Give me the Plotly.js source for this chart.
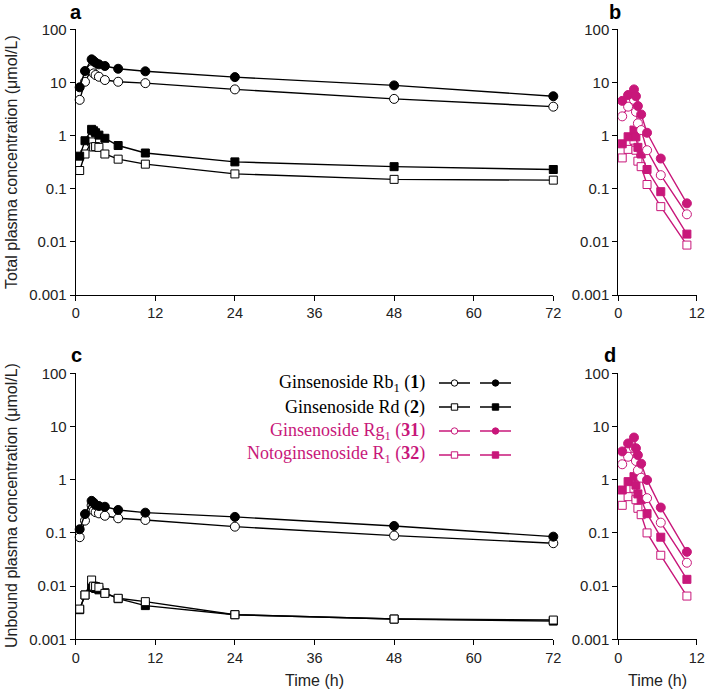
<!DOCTYPE html>
<html>
<head>
<meta charset="utf-8">
<script src="https://cdn.plot.ly/plotly-3.0.1.min.js"></script>
<style>
  body { margin: 0; background: #fff; }
  #chart { width: 706px; height: 694px; }
</style>
</head>
<body>
<div id="chart"></div>
<script>
// sampling times (h)
const tLong = [0.6, 1.4, 2.4, 2.7, 3.0, 3.5, 4.4, 6.4, 10.5, 24, 48, 72];
const tShort = [0.6, 1.5, 2.4, 2.7, 3.0, 3.5, 4.4, 6.5, 10.5];

// total plasma concentration (umol/L)
const rb1TotalOpen = [4.7, 10.3, 17.7, 14.8, 13.8, 12.8, 11.1, 10.3, 9.7, 7.4, 4.9, 3.5];
const rb1TotalFilled = [8.1, 16.4, 27.2, 25.3, 23.5, 21.9, 20.4, 18.1, 16.2, 12.6, 8.8, 5.5];
const rdTotalOpen = [0.22, 0.45, 0.76, 0.61, 0.62, 0.60, 0.45, 0.36, 0.29, 0.19, 0.15, 0.145];
const rdTotalFilled = [0.41, 0.80, 1.31, 1.23, 1.13, 1.02, 0.89, 0.65, 0.47, 0.32, 0.26, 0.23];
const rg1TotalOpen = [2.3, 3.5, 4.7, 2.8, 1.7, 1.27, 0.53, 0.18, 0.033];
const rg1TotalFilled = [4.5, 5.8, 7.4, 5.5, 3.6, 2.5, 1.13, 0.37, 0.053];
const r1TotalOpen = [0.38, 0.55, 0.82, 0.53, 0.33, 0.26, 0.12, 0.046, 0.0087];
const r1TotalFilled = [0.70, 0.95, 1.27, 0.95, 0.60, 0.45, 0.23, 0.088, 0.014];

// unbound plasma concentration (umol/L)
const rb1UnbOpen = [0.083, 0.17, 0.33, 0.26, 0.245, 0.233, 0.21, 0.188, 0.175, 0.131, 0.089, 0.064];
const rb1UnbFilled = [0.117, 0.226, 0.40, 0.37, 0.334, 0.32, 0.31, 0.27, 0.24, 0.20, 0.135, 0.085];
const rdUnbOpen = [0.0037, 0.0068, 0.0130, 0.0100, 0.0098, 0.0095, 0.0073, 0.0059, 0.0051, 0.0029, 0.0024, 0.0023];
const rdUnbFilled = [0.0036, 0.0068, 0.0100, 0.0094, 0.0090, 0.0085, 0.0075, 0.0058, 0.0043, 0.0029, 0.0024, 0.0022];
const rg1UnbOpen = [1.95, 2.7, 3.9, 2.25, 1.5, 1.09, 0.45, 0.156, 0.0275];
const rg1UnbFilled = [3.4, 4.8, 6.2, 3.9, 2.9, 2.0, 0.99, 0.30, 0.044];
const r1UnbOpen = [0.33, 0.48, 0.69, 0.42, 0.29, 0.22, 0.10, 0.038, 0.0065];
const r1UnbFilled = [0.64, 0.92, 1.14, 0.79, 0.54, 0.42, 0.23, 0.083, 0.0134];

const yTickVals = [0.001, 0.01, 0.1, 1, 10, 100];
const yTickText = ['0.001', '0.01', '0.1', '1', '10', '100'];
const longTicks = [0, 12, 24, 36, 48, 60, 72];
const shortTicks = [0, 12];

const legendNames = [
  'Ginsenoside Rb<sub>1</sub> (<b>1</b>)',
  'Ginsenoside Rd (<b>2</b>)',
  'Ginsenoside Rg<sub>1</sub> (<b>31</b>)',
  'Notoginsenoside R<sub>1</sub> (<b>32</b>)'
];

const W = 706, H = 694;
const black = '#000000';
const pink = '#c8177a';
const px = x => x / W;
const py = y => 1 - y / H;

function series(x, y, color, symbol, filled, xa, ya) {
  return {
    x: x, y: y, xaxis: xa, yaxis: ya,
    type: 'scatter', mode: 'lines+markers', cliponaxis: false,
    line: { color: color, width: 1.4 },
    marker: {
      symbol: symbol, size: symbol === 'square' ? 8 : 9,
      color: filled ? color : '#ffffff',
      line: { color: color, width: 1 }
    },
    hoverinfo: 'x+y'
  };
}

const data = [
  // a
  series(tLong, rdTotalOpen, black, 'square', false, 'x', 'y'),
  series(tLong, rdTotalFilled, black, 'square', true, 'x', 'y'),
  series(tLong, rb1TotalOpen, black, 'circle', false, 'x', 'y'),
  series(tLong, rb1TotalFilled, black, 'circle', true, 'x', 'y'),
  // b
  series(tShort, r1TotalOpen, pink, 'square', false, 'x2', 'y2'),
  series(tShort, r1TotalFilled, pink, 'square', true, 'x2', 'y2'),
  series(tShort, rg1TotalOpen, pink, 'circle', false, 'x2', 'y2'),
  series(tShort, rg1TotalFilled, pink, 'circle', true, 'x2', 'y2'),
  // c
  series(tLong, rdUnbFilled, black, 'square', true, 'x3', 'y3'),
  series(tLong, rdUnbOpen, black, 'square', false, 'x3', 'y3'),
  series(tLong, rb1UnbOpen, black, 'circle', false, 'x3', 'y3'),
  series(tLong, rb1UnbFilled, black, 'circle', true, 'x3', 'y3'),
  // d
  series(tShort, r1UnbOpen, pink, 'square', false, 'x4', 'y4'),
  series(tShort, r1UnbFilled, pink, 'square', true, 'x4', 'y4'),
  series(tShort, rg1UnbOpen, pink, 'circle', false, 'x4', 'y4'),
  series(tShort, rg1UnbFilled, pink, 'circle', true, 'x4', 'y4')
];

const xTickFont = { family: 'Liberation Sans, Arial, sans-serif', size: 14.5, color: '#222' };
const yTickFont = { family: 'Liberation Sans, Arial, sans-serif', size: 15, color: '#222' };

function xAxis(domain, max, ticks, anchor) {
  return {
    domain: domain, range: [0, max], anchor: anchor,
    tickvals: ticks, ticks: 'outside', ticklen: 5, tickwidth: 1, tickcolor: black,
    showline: true, linecolor: black, linewidth: 1,
    showgrid: false, zeroline: false, tickfont: xTickFont
  };
}
function yAxis(domain, anchor) {
  return {
    domain: domain, type: 'log', range: [-3, 2], anchor: anchor,
    tickvals: yTickVals, ticktext: yTickText,
    ticks: 'outside', ticklen: 5, tickwidth: 1, tickcolor: black,
    showline: true, linecolor: black, linewidth: 1,
    showgrid: false, zeroline: false, tickfont: yTickFont
  };
}

const xWide = [px(75.7), px(553.3)];
const xNarrow = [px(618.3), px(696.7)];
const yTop = [py(295), py(29.3)];
const yBot = [py(639.3), py(373.3)];

const labelFont = { family: 'Liberation Sans, Arial, sans-serif', size: 20, color: black };
const titleFont = { family: 'Liberation Sans, Arial, sans-serif', size: 16, color: '#222' };
const legFont = { family: 'Liberation Serif, Times New Roman, serif', size: 18 };

function note(text, x, y, font, extra) {
  return Object.assign({
    text: text, x: px(x), y: py(y), xref: 'paper', yref: 'paper',
    xanchor: 'center', yanchor: 'middle', showarrow: false, font: font
  }, extra || {});
}

const annotations = [
  note('<b>a</b>', 76, 12, labelFont),
  note('<b>b</b>', 615, 12, labelFont),
  note('<b>c</b>', 76, 355, labelFont),
  note('<b>d</b>', 610, 355, labelFont),
  note('Total plasma concentration (μmol/L)', 11, 162, titleFont, { textangle: -90 }),
  note('Unbound plasma concentration (μmol/L)', 11, 506, titleFont, { textangle: -90 }),
  note('Time (h)', 314, 680, titleFont),
  note('Time (h)', 657, 680, titleFont)
];

// legend (drawn by hand, two marker columns: open and filled)
const legRows = [383, 407, 431, 455];
const legColors = [black, black, pink, pink];
const legSymbols = ['circle', 'square', 'circle', 'square'];
const shapes = [];
legRows.forEach((ry, i) => {
  const c = legColors[i];
  annotations.push(note(legendNames[i], 427, ry,
    Object.assign({}, legFont, { color: c }), { xanchor: 'right' }));
  [[439, 470, false], [480, 511, true]].forEach(([x0, x1, filled]) => {
    shapes.push({ type: 'line', xref: 'paper', yref: 'paper',
      x0: px(x0), x1: px(x1), y0: py(ry), y1: py(ry), line: { color: c, width: 1.5 } });
    const cx = (x0 + x1) / 2, r = 3.2;
    shapes.push({ type: legSymbols[i] === 'circle' ? 'circle' : 'rect', xref: 'paper', yref: 'paper',
      x0: px(cx - r), x1: px(cx + r), y0: py(ry - r), y1: py(ry + r),
      fillcolor: filled ? c : '#ffffff', line: { color: c, width: 1 } });
  });
});

const layout = {
  width: W, height: H,
  margin: { l: 0, r: 0, t: 0, b: 0 },
  paper_bgcolor: '#ffffff', plot_bgcolor: 'rgba(0,0,0,0)',
  showlegend: false,
  xaxis: xAxis(xWide, 72, longTicks, 'y'),
  yaxis: yAxis(yTop, 'x'),
  xaxis2: xAxis(xNarrow, 12, shortTicks, 'y2'),
  yaxis2: yAxis(yTop, 'x2'),
  xaxis3: xAxis(xWide, 72, longTicks, 'y3'),
  yaxis3: yAxis(yBot, 'x3'),
  xaxis4: xAxis(xNarrow, 12, shortTicks, 'y4'),
  yaxis4: yAxis(yBot, 'x4'),
  annotations: annotations,
  shapes: shapes
};

Plotly.newPlot('chart', data, layout, { displayModeBar: false, staticPlot: true });
</script>
</body>
</html>
